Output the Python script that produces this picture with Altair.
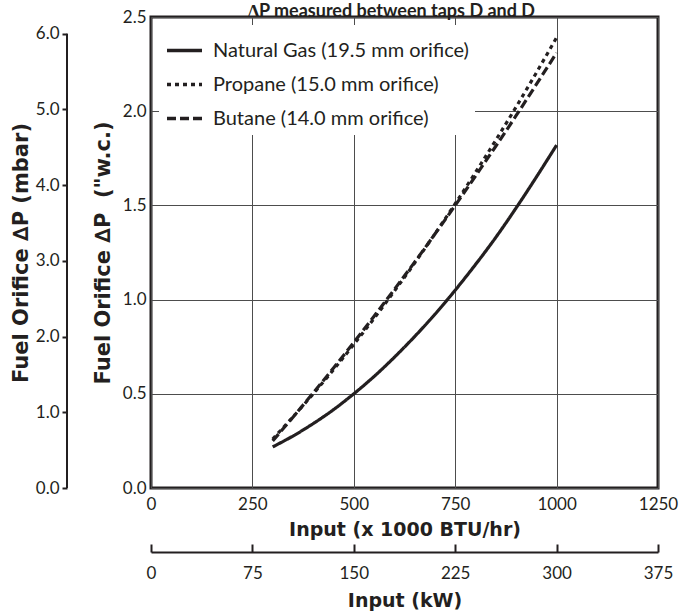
import altair as alt
import pandas as pd

# ---- data ----
input_kbtu = [300, 350, 400, 450, 500, 550, 600, 650, 700, 750, 800, 850, 900, 950, 1000]
natural_gas = [0.218, 0.276, 0.342, 0.416, 0.500, 0.592, 0.694, 0.804, 0.922, 1.050, 1.186, 1.330, 1.486, 1.650, 1.820]
propane = [0.260, 0.377, 0.500, 0.628, 0.762, 0.900, 1.045, 1.194, 1.349, 1.509, 1.675, 1.846, 2.022, 2.204, 2.391]
butane = [0.250, 0.376, 0.505, 0.637, 0.773, 0.912, 1.054, 1.199, 1.348, 1.500, 1.656, 1.814, 1.976, 2.142, 2.310]
series_names = ["Natural Gas (19.5 mm orifice)", "Propane (15.0 mm orifice)", "Butane (14.0 mm orifice)"]

x_ticks_btu = [0, 250, 500, 750, 1000, 1250]
x_ticks_kw = [0, 75, 150, 225, 300, 375]
y_ticks_inwc = [0.0, 0.5, 1.0, 1.5, 2.0, 2.5]
y_ticks_mbar = [0, 1, 2, 3, 4, 5, 6]
MBAR_PER_INWC = 2.4884

rows = []
for name, vals in zip(series_names, [natural_gas, propane, butane]):
    for x, v in zip(input_kbtu, vals):
        rows.append({"input": x, "dp": v, "fuel": name})
df = pd.DataFrame(rows)

INK = "#231f20"
FONT = "Lato"
TFONT = "DejaVu Sans"

lines = alt.Chart(df).mark_line(strokeWidth=3.2, color=INK, interpolate="natural").encode(
    x=alt.X("input:Q",
            scale=alt.Scale(domain=[0, 1250], nice=False, zero=False),
            axis=alt.Axis(values=x_ticks_btu, grid=True, ticks=False, domain=False,
                          labelPadding=8, labelFlush=False, labelOverlap=False, format="d",
                          title="Input (x 1000 BTU/hr)", titleY=47, titleBaseline="alphabetic",
                          titleFontSize=19)),
    y=alt.Y("dp:Q",
            scale=alt.Scale(domain=[0, 2.5], nice=False),
            axis=alt.Axis(values=y_ticks_inwc, format=".1f", grid=True, ticks=False, domain=False,
                          labelPadding=5, labelOverlap=False,
                          title='Fuel Orifice \u2206P\u00a0 ("w.c.)', titleX=-48, titleBaseline="middle",
                          titleFontSize=21)),
    strokeDash=alt.StrokeDash("fuel:N",
                              scale=alt.Scale(domain=series_names, range=[[1, 0], [4, 4], [9, 4]]),
                              sort=series_names,
                              legend=alt.Legend(title=None, orient="top-left", offset=8, padding=6,
                                                fillColor="white", labelFont=FONT, labelFontSize=20,
                                                labelColor=INK, labelLimit=400, labelOffset=9,
                                                symbolType="stroke", symbolSize=1225,
                                                symbolStrokeWidth=3.5, symbolStrokeColor=INK,
                                                rowPadding=4)),
)

mbar_df = pd.DataFrame({"lo": [y_ticks_mbar[0]], "hi": [y_ticks_mbar[-1]]})
mbar = alt.Chart(mbar_df).mark_rule(color=INK, strokeWidth=2).encode(
    x=alt.value(-84),
    y=alt.Y("lo:Q",
            scale=alt.Scale(domain=[0, 2.5 * MBAR_PER_INWC], nice=False),
            axis=alt.Axis(orient="left", offset=84, values=y_ticks_mbar, format=".1f",
                          domain=False, grid=False, tickSize=5, tickWidth=2, labelPadding=3,
                          labelOverlap=False,
                          title="Fuel Orifice \u2206P (mbar)", titleX=-46, titleBaseline="middle",
                          titleFontSize=21)),
    y2="hi:Q",
)

kw_df = pd.DataFrame({"kw": x_ticks_kw})
kw = alt.Chart(kw_df).mark_point(opacity=0).encode(
    x=alt.X("kw:Q",
            scale=alt.Scale(domain=[0, 375], nice=False),
            axis=alt.Axis(orient="top", offset=-535, values=x_ticks_kw, grid=False,
                          tickSize=8, tickWidth=2, domainWidth=2, labelPadding=-34,
                          labelBaseline="alphabetic", labelFlush=False, labelOverlap=False,
                          title="Input (kW)", titleY=54, titleBaseline="alphabetic",
                          titleFontSize=19)),
)

chart = alt.layer(lines, mbar, kw).resolve_scale(
    x="independent", y="independent"
).properties(
    width=507,
    height=471,
    autosize=alt.AutoSizeParams(type="none"),
    padding={"left": 151, "top": 17, "right": 21, "bottom": 125},
    title=alt.TitleParams("\u2206P measured between taps D and D", fontSize=18, fontWeight="bold",
                          font=FONT, color=INK, anchor="middle", frame="group", offset=2,
                          baseline="alphabetic", dx=-13, dy=29),
).configure(background="white").configure_view(
    stroke=INK, strokeWidth=3
).configure_axis(
    labelFont=FONT, labelFontSize=17, labelColor=INK,
    titleFont=TFONT, titleFontWeight="bold", titleColor=INK,
    gridColor="#4d4d4d", gridWidth=1, gridOpacity=1,
    domainColor=INK, tickColor=INK,
)

chart.save("out.html", embed_options={"renderer": "svg", "actions": False})
